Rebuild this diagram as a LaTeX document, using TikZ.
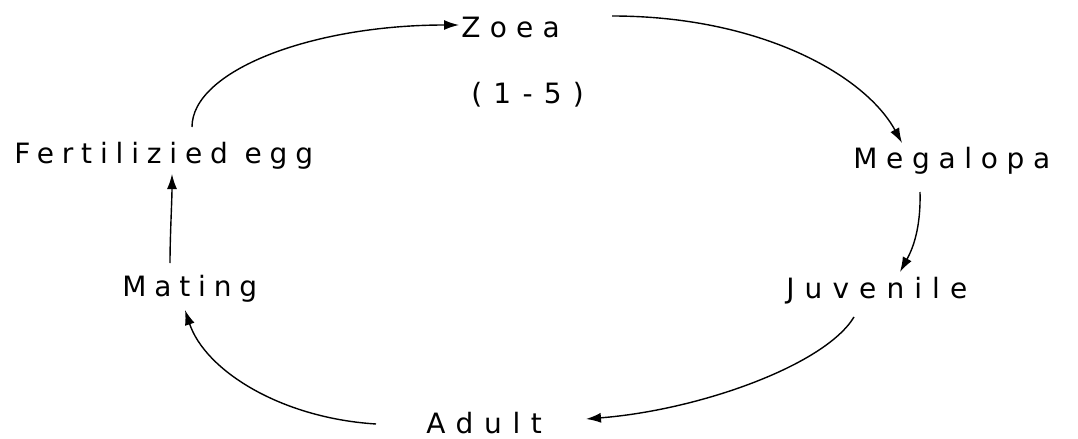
\documentclass[tikz,border=0pt]{standalone}
\usepackage{fontspec}
\newfontfamily\labfont[LetterSpace=28]{DejaVu Sans}
\usetikzlibrary{arrows.meta}
\begin{document}
\begin{tikzpicture}[x=0.5pt,y=-0.5pt,
  lab/.style={font={\labfont\fontsize{14pt}{16pt}\selectfont}, inner sep=0pt, anchor=base west},
  arr/.style={line width=0.7pt, -{Latex[length=7.5pt,width=5pt]}}]
\useasboundingbox (0,0) rectangle (1078,439);
\node[lab] (zoea) at (461,38) {\addfontfeature{LetterSpace=33}Zoea};
\node[lab] (stage) at (471,103) {\addfontfeature{LetterSpace=40}(1-5)};
\node[lab] (fert) at (14,163) {Fertilizied egg};
\node[lab] (mega) at (853,168) {\addfontfeature{LetterSpace=31}Megalopa};
\node[lab] (juv) at (786,298) {\addfontfeature{LetterSpace=36}Juvenile};
\node[lab] (mat) at (122,296) {Mating};
\node[lab] (adult) at (426,433) {\addfontfeature{LetterSpace=38}Adult};
% fert -> zoea
\draw[arr] ([shift={(178,-36)}]fert.base west) .. controls ([shift={(178,-92)}]fert.base west) and ([shift={(-150,-13)}]zoea.base west) .. ([shift={(-2,-13)}]zoea.base west);
% zoea -> megalopa
\draw[arr] ([shift={(151,-22)}]zoea.base west) .. controls ([shift={(-93,-152)}]mega.base west) and ([shift={(12,-93)}]mega.base west) .. ([shift={(49,-25)}]mega.base west);
% megalopa -> juvenile
\draw[arr] ([shift={(67,24)}]mega.base west) .. controls ([shift={(68,62)}]mega.base west) and ([shift={(126,-48)}]juv.base west) .. ([shift={(114,-26)}]juv.base west);
% juvenile -> adult
\draw[arr] ([shift={(68,19)}]juv.base west) .. controls ([shift={(39,67)}]juv.base west) and ([shift={(274,-23)}]adult.base west) .. ([shift={(160,-14)}]adult.base west);
% adult -> mating
\draw[arr] ([shift={(-50,-9)}]adult.base west) .. controls ([shift={(-146,-15)}]adult.base west) and ([shift={(83,74)}]mat.base west) .. ([shift={(63,14)}]mat.base west);
% mating -> fert
\draw[arr] ([shift={(48,-33)}]mat.base west) .. controls ([shift={(48,-60)}]mat.base west) and ([shift={(158,38)}]fert.base west) .. ([shift={(158,11)}]fert.base west);
\end{tikzpicture}
\end{document}
